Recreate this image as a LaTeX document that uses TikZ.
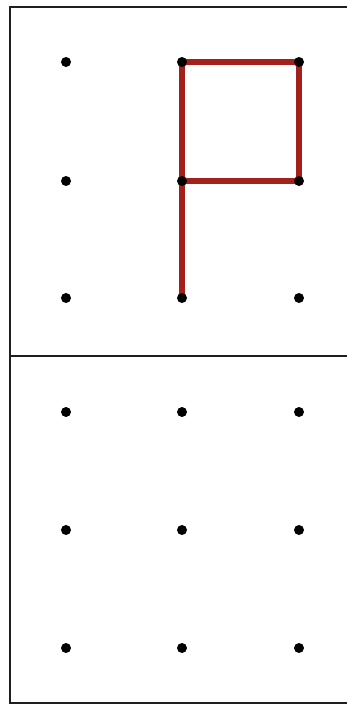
\documentclass[tikz,border=0pt]{standalone}
\definecolor{flagred}{HTML}{A3201C}
\tikzset{
  frameline/.style={line width=2.6pt, black!88, line cap=rect},
  dotnode/.style={circle, fill=black, inner sep=0pt, minimum size=10pt},
  redline/.style={line width=5.5pt, flagred},
}
\begin{document}
\begin{tikzpicture}[x=1pt,y=-1pt]
\useasboundingbox (0,0) rectangle (346,707);
\fill[white] (0,0) rectangle (346,707);
% frame
\coordinate (tl) at (10,7);
\coordinate (tr) at (347,7);
\coordinate (ml) at (10,356);
\coordinate (mr) at (347,356);
\coordinate (bl) at (10,703);
\coordinate (br) at (347,703);
\draw[frameline] (tr) -- (tl) -- (bl) -- (br);
\draw[frameline] (ml) -- (mr);
% grid coordinates
\foreach \c/\x in {1/66,2/182,3/299}{
  \foreach \r/\y in {1/62,2/181,3/298}{
    \coordinate (t\r\c) at (\x,\y);
  }
  \foreach \r/\y in {1/412,2/530,3/648}{
    \coordinate (b\r\c) at (\x,\y);
  }
}
% red flag
\draw[redline, line join=miter] (t32) -- (t12) -- (t13) -- (t23) -- (t22);
% dots
\foreach \r in {1,2,3}{
  \foreach \c in {1,2,3}{
    \node[dotnode] (dt\r\c) at (t\r\c) {};
    \node[dotnode] (db\r\c) at (b\r\c) {};
  }
}
\end{tikzpicture}
\end{document}
